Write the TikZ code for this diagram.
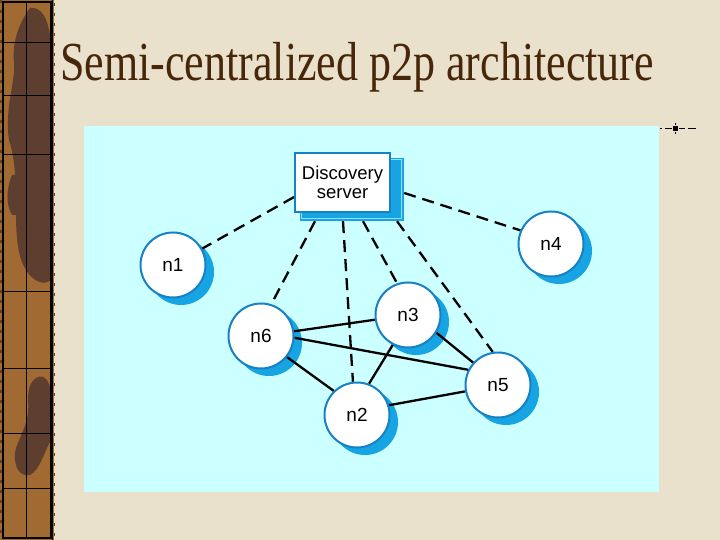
\documentclass[tikz,border=0pt]{standalone}
\usepackage{fontspec}
\usepackage{graphicx}
\setmainfont{Liberation Serif}
\newfontfamily\arialf{Liberation Sans}
\usetikzlibrary{calc}
\definecolor{bgbeige}{RGB}{233,225,203}
\definecolor{panelcyan}{RGB}{204,255,255}
\definecolor{ringblue}{RGB}{24,128,196}
\definecolor{shadblue}{RGB}{22,164,226}
\definecolor{titlebrown}{RGB}{72,38,10}
\definecolor{stripbrown}{RGB}{160,106,50}
\definecolor{stripdark}{RGB}{94,62,46}
\pgfdeclarelayer{back}
\pgfdeclarelayer{shad}
\pgfdeclarelayer{edgel}
\pgfsetlayers{back,shad,edgel,main}
\begin{document}
\begin{tikzpicture}[x=1pt,y=-1pt,
  peer/.style={circle, draw=ringblue, line width=2pt, fill=white, minimum size=65pt, inner sep=0pt,
    font=\arialf\fontsize{19}{20}\selectfont},
  serverbox/.style={rectangle, draw=ringblue, line width=1.8pt, fill=white, minimum width=95pt,
    minimum height=59pt, inner sep=0pt, align=center, font=\arialf\fontsize{18.5}{19.5}\selectfont},
  dashlink/.style={line width=2.3pt, dash pattern=on 12pt off 7pt},
  solidlink/.style={line width=2.3pt},
  gridline/.style={black, line width=0.8pt}]
\useasboundingbox (0,0) rectangle (720,540);

% nodes
\node[serverbox] (server) at (342.5,182.5) {Discovery\\server};
\node[peer] (n1) at (173,265) {n1};
\node[peer] (n4) at (551,244) {n4};
\node[peer] (n3) at (408,315) {n3};
\node[peer] (n6) at (261,336) {n6};
\node[peer] (n5) at (498,385) {n5};
\node[peer] (n2) at (357,415) {n2};

\node[anchor=base west, inner sep=0pt, text=titlebrown] (title) at (60,81)
  {\scalebox{0.8}[1]{\fontsize{55}{55}\selectfont Semi-centralized p2p architecture}};

\begin{pgfonlayer}{back}
  \fill[bgbeige] (0,0) rectangle (720,540);
  \fill[panelcyan] (84,126) rectangle (659,492);
  % left strip
  \fill[stripbrown] (0,0) rectangle (54,540);
  \fill[stripdark] (30,8) .. controls (46,6) and (52,30) .. (51,60) -- (51,280)
     .. controls (42,288) and (28,278) .. (22,262) .. controls (10,230) and (22,180) .. (9,140)
     .. controls (4,110) and (16,80) .. (14,62) .. controls (12,40) and (20,22) .. (30,8) -- cycle;
  \fill[stripdark] (36,378) .. controls (46,372) and (52,385) .. (51,400) -- (51,440)
     .. controls (44,452) and (40,470) .. (30,475) .. controls (18,478) and (12,462) .. (16,448)
     .. controls (22,432) and (30,420) .. (28,400) .. controls (28,390) and (30,382) .. (36,378) -- cycle;
  \fill[stripdark] (12,175) .. controls (6,190) and (6,205) .. (12,215) -- (20,215) -- (20,175) -- cycle;
  \draw[black, line width=1.6pt] (3,2) rectangle (51,538);
  \draw[black, line width=1.2pt] (52.5,0) -- (52.5,540);
  \foreach \yy in {42,95,154,291,368,433,488}
    \draw[gridline] (3,\yy) -- (51,\yy);
  \draw[gridline] (26,2) -- (26,538);
  \draw[stripdark, line width=1.8pt, dash pattern=on 3pt off 7pt] (1,0) -- (1,540);
  \draw[stripdark, line width=1.5pt, dash pattern=on 3pt off 7pt] (54.5,3) -- (54.5,540);
  % top right marker
  \draw[black, line width=1pt] (660,129) -- (662,129) (665,129) -- (672,129)
     (679,129) -- (685,129) (688,129) -- (696,129)
     (675.5,123.5) -- (675.5,125.5) (675.5,132.5) -- (675.5,134.5);
  \fill[black] (673,126.5) rectangle (678,131.5);
\end{pgfonlayer}

\begin{pgfonlayer}{shad}
  \node[fill=shadblue, minimum width=104pt, minimum height=63pt, inner sep=0pt] (srvshadow) at (352,189.5) {};
  \draw[white!60!cyan, line width=0.8pt] ($(srvshadow.north west)+(2,2)$) rectangle ($(srvshadow.south east)+(-3,-3)$);
  \foreach \n in {n1,n2,n3,n4,n5,n6}
    \fill[shadblue] ($(\n.center)+(8,7)$) circle[radius=33pt];
\end{pgfonlayer}

\begin{pgfonlayer}{edgel}
  \draw[dashlink] ($(server.west)+(0,14.5)$) -- (n1);
  \draw[dashlink] ($(srvshadow.east)+(0,3.5)$) -- (n4.156);
  \draw[dashlink] ($(srvshadow.south)+(-37,0)$) -- (n6.72);
  \draw[dashlink] ($(srvshadow.south)+(-9,0)$) -- (n2.97);
  \draw[dashlink] ($(srvshadow.south)+(11,0)$) -- (n3.109);
  \draw[dashlink] ($(srvshadow.south)+(45,0)$) -- (n5.99);
  \draw[solidlink] (n6) -- (n3);
  \draw[solidlink] (n6.-3) -- (n5.153);
  \draw[solidlink] (n6.-39) -- (n2.134);
  \draw[solidlink] (n3.-117) -- (n2.69);
  \draw[solidlink] (n3.-32) -- (n5.138);
  \draw[solidlink] (n2.17) -- (n5.-169);
\end{pgfonlayer}
\end{tikzpicture}
\end{document}
